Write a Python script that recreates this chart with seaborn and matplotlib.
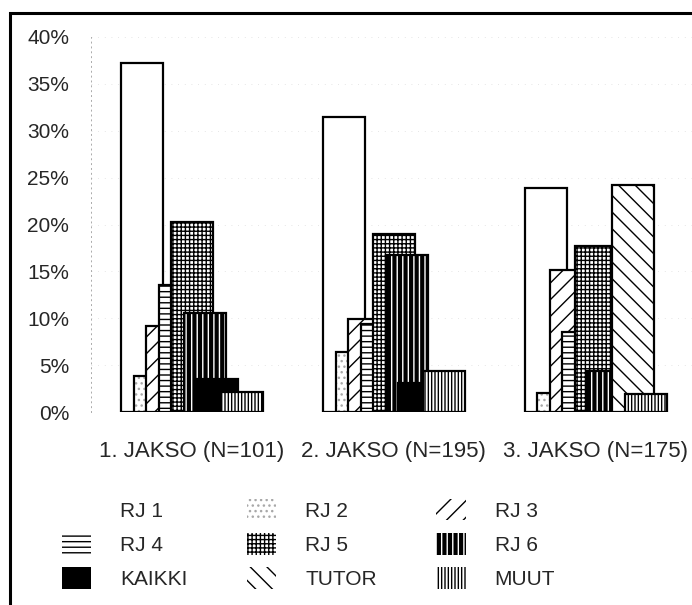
import numpy as np
import pandas as pd
import seaborn as sns
import matplotlib
matplotlib.use("Agg")
from matplotlib import pyplot as plt
from matplotlib.patches import Patch, Rectangle
from matplotlib.colors import to_rgba
from matplotlib.ticker import FuncFormatter

# data (percent)
jaksot = ["1. JAKSO (N=101)", "2. JAKSO (N=195)", "3. JAKSO (N=175)"]
sarjat = ["RJ 1", "RJ 2", "RJ 3", "RJ 4", "RJ 5", "RJ 6", "KAIKKI", "TUTOR", "MUUT"]
rj1 = [37.2, 31.5, 23.9]
rj2 = [3.8, 6.4, 2.0]
rj3 = [9.2, 9.9, 15.1]
rj4 = [13.6, 9.4, 8.5]
rj5 = [20.3, 19.0, 17.7]
rj6 = [10.6, 16.7, 4.4]
kaikki = [3.5, 3.1, 0.0]
tutor = [0.0, 0.0, 24.2]
muut = [2.1, 4.4, 1.9]
arvot = [rj1, rj2, rj3, rj4, rj5, rj6, kaikki, tutor, muut]

rows = []
for s, vals in zip(sarjat, arvot):
    for j, v in zip(jaksot, vals):
        rows.append((j, s, v))
df = pd.DataFrame(rows, columns=["jakso", "sarja", "osuus"])

# fill, hatch, hatch colour for each series
tyylit = [
    ("white", "", "black"),
    ("white", "...", "#a8a8a8"),
    ("white", "//", "black"),
    ("white", "---", "black"),
    ("white", "++++", "black"),
    ("black", "|||", "white"),
    ("black", "", "black"),
    ("white", "\\\\", "black"),
    ("white", "|||||", "black"),
]

sns.set_style("white")
plt.rcParams["font.family"] = ["Liberation Sans", "DejaVu Sans"]
plt.rcParams["hatch.linewidth"] = 1.0

W, H = 692, 605
fig = plt.figure(figsize=(W / 100, H / 100), dpi=100)
ax = fig.add_axes([91.25 / W, (H - 412) / H, (W - 91.25) / W, (412 - 37) / H])

sns.barplot(data=df, x="jakso", y="osuus", hue="sarja", order=jaksot,
            hue_order=sarjat, errorbar=None, saturation=1, legend=False, ax=ax)

# overlapping bars, each drawn over the previous one
step, bw, off = 0.062, 0.208, 0.35
for i, cont in enumerate(ax.containers):
    fc, hatch, hc = tyylit[i]
    for k, p in enumerate(cont.patches):
        p.set_x(k - off + i * step)
        p.set_width(bw)
        p.set_facecolor(fc)
        p.set_edgecolor("black")
        p.set_linewidth(1.6)
        p.set_hatch(hatch if hatch else None)
        if hasattr(p, "set_hatchcolor"):
            p.set_hatchcolor(hc)
        else:
            p._hatch_color = to_rgba(hc)
        p.set_zorder(3 + i * 0.1)

ax.set_xlim(-0.5, 2.48)
ax.set_ylim(0, 40)
ax.set_yticks(np.arange(0, 41, 5))
ax.yaxis.set_major_formatter(FuncFormatter(lambda v, _: "%d%%" % v))
ax.set_xlabel("")
ax.set_ylabel("")
ax.tick_params(axis="y", length=0, pad=16, labelsize=15)
ax.tick_params(axis="x", length=9, width=0.7, color="#777777", pad=12, labelsize=16,
               direction="out")
ax.yaxis.grid(True, linestyle=(0, (1, 7)), color="#dddddd", linewidth=0.6)
ax.set_axisbelow(True)
for sp in ["top", "right", "bottom"]:
    ax.spines[sp].set_visible(False)
ax.spines["left"].set_linestyle((0, (1, 4)))
ax.spines["left"].set_color("#aaaaaa")
ax.spines["left"].set_linewidth(0.7)

# legend, filled row by row (3 x 3)
handles = []
for (fc, hatch, hc), s in zip(tyylit, sarjat):
    handles.append(Patch(facecolor=fc, edgecolor=hc, hatch=hatch if hatch else None,
                         linewidth=0, label=s))
handles = [handles[r * 3 + c] for c in range(3) for r in range(3)]
fig.legend(handles=handles, ncol=3, loc="center left",
           bbox_to_anchor=(62 / W, (H - 544) / H), frameon=False, fontsize=15,
           handlelength=1.4, handleheight=1.2, handletextpad=1.4,
           columnspacing=2.85, labelspacing=0.6, borderpad=0, borderaxespad=0)

# outer frame of the picture (cropped at right and bottom)
fig.add_artist(Rectangle((10 / W, -0.05), 1.2, (H - 13) / H + 0.05,
                         transform=fig.transFigure, fill=False,
                         edgecolor="black", linewidth=2.2))

fig.savefig("out.png", dpi=100)
